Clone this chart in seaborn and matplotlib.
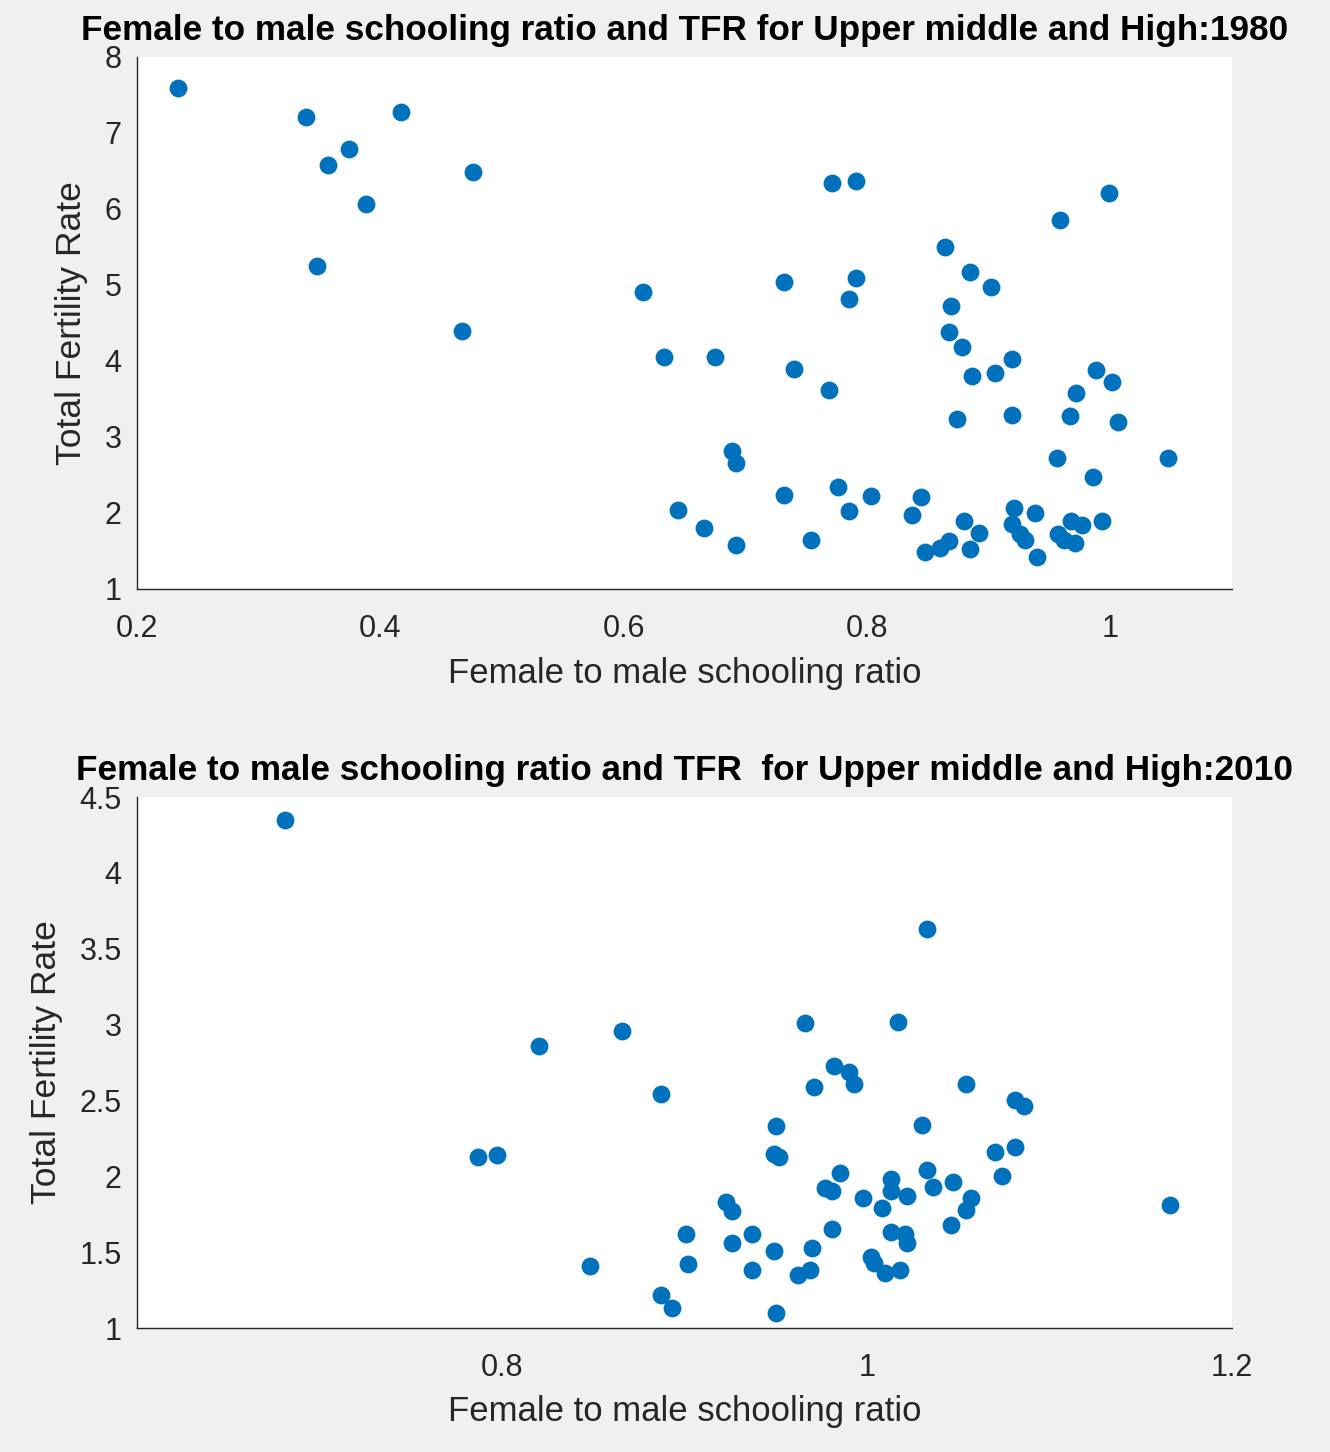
import matplotlib
matplotlib.use("Agg")
import matplotlib.pyplot as plt
import seaborn as sns
import pandas as pd

# ---- data: 1980 ----
x1980 = [0.234, 0.339, 0.417, 0.374, 0.357, 0.388, 0.476, 0.348, 0.467, 0.616,
         0.633, 0.675, 0.771, 0.791, 0.999, 0.959, 0.864, 0.732, 0.791, 0.785,
         0.885, 0.902, 0.869, 0.867, 0.878, 0.919, 0.886, 0.905, 0.988, 1.001,
         0.972, 0.740, 0.769, 0.874, 0.919, 0.967, 1.006, 0.689, 0.692, 0.956,
         1.047, 0.986, 0.732, 0.776, 0.803, 0.844, 0.645, 0.785, 0.837, 0.921,
         0.938, 0.666, 0.692, 0.754, 0.880, 0.892, 0.885, 0.867, 0.860, 0.848,
         0.919, 0.926, 0.930, 0.940, 0.993, 0.957, 0.968, 0.977, 0.971, 0.962]
y1980 = [7.59, 7.21, 7.28, 6.79, 6.58, 6.07, 6.49, 5.25, 4.40, 4.91,
         4.05, 4.05, 6.34, 6.37, 6.21, 5.85, 5.50, 5.04, 5.09, 4.82,
         5.17, 4.97, 4.72, 4.38, 4.18, 4.02, 3.80, 3.84, 3.88, 3.72,
         3.58, 3.89, 3.62, 3.24, 3.29, 3.28, 3.20, 2.81, 2.66, 2.73,
         2.72, 2.47, 2.24, 2.34, 2.23, 2.21, 2.04, 2.02, 1.98, 2.06,
         2.00, 1.80, 1.58, 1.64, 1.90, 1.74, 1.52, 1.63, 1.54, 1.49,
         1.85, 1.72, 1.64, 1.42, 1.89, 1.73, 1.89, 1.84, 1.60, 1.64]

# ---- data: 2010 ----
x2010 = [0.681, 1.033, 0.820, 0.866, 0.966, 1.017, 0.887, 0.982, 0.990, 0.993,
         0.971, 1.054, 1.081, 1.086, 0.950, 1.030, 0.787, 0.797, 0.949, 0.952,
         1.070, 1.081, 1.074, 0.985, 0.977, 0.981, 1.033, 1.036, 1.047, 1.057,
         1.054, 1.046, 0.998, 1.013, 1.013, 1.008, 1.022, 1.166, 0.923, 0.926,
         0.901, 0.902, 0.926, 0.937, 0.949, 0.937, 0.970, 0.981, 0.962, 0.969,
         0.887, 0.893, 0.950, 1.013, 1.021, 1.022, 1.002, 1.004, 1.010, 1.018,
         0.848]
y2010 = [4.35, 3.63, 2.86, 2.96, 3.01, 3.02, 2.54, 2.73, 2.69, 2.61,
         2.59, 2.61, 2.50, 2.46, 2.33, 2.34, 2.13, 2.14, 2.15, 2.13,
         2.16, 2.19, 2.00, 2.02, 1.92, 1.90, 2.04, 1.93, 1.96, 1.86,
         1.78, 1.68, 1.86, 1.98, 1.90, 1.79, 1.87, 1.81, 1.83, 1.77,
         1.62, 1.42, 1.56, 1.62, 1.51, 1.38, 1.53, 1.65, 1.35, 1.38,
         1.22, 1.13, 1.10, 1.63, 1.62, 1.56, 1.47, 1.43, 1.36, 1.38,
         1.41]

xticks_top = [0.2, 0.4, 0.6, 0.8, 1.0]
xticklabels_top = ["0.2", "0.4", "0.6", "0.8", "1"]
yticks_top = [1, 2, 3, 4, 5, 6, 7, 8]
yticklabels_top = ["1", "2", "3", "4", "5", "6", "7", "8"]
xticks_bot = [0.8, 1.0, 1.2]
xticklabels_bot = ["0.8", "1", "1.2"]
yticks_bot = [1, 1.5, 2, 2.5, 3, 3.5, 4, 4.5]
yticklabels_bot = ["1", "1.5", "2", "2.5", "3", "3.5", "4", "4.5"]

title_top = "Female to male schooling ratio and TFR for Upper middle and High:1980"
title_bot = "Female to male schooling ratio and TFR  for Upper middle and High:2010"
xlabel = "Female to male schooling ratio"
ylabel = "Total Fertility Rate"

df1 = pd.DataFrame({"x": x1980, "y": y1980})
df2 = pd.DataFrame({"x": x2010, "y": y2010})

sns.set_style("white")
plt.rcParams["font.family"] = ["Liberation Sans", "DejaVu Sans"]

W, H = 1330, 1452
fig = plt.figure(figsize=(W / 100, H / 100), dpi=100, facecolor="#f0f0f0")

def frac(l, t, r, b):
    return [l / W, 1 - b / H, (r - l) / W, (b - t) / H]

ax1 = fig.add_axes(frac(137, 57, 1232, 589))
ax2 = fig.add_axes(frac(137, 797, 1232, 1328))

blue = "#0072BD"
grey = "#262626"

for ax, df, xt, xtl, yt, ytl, xl, yl, title in [
    (ax1, df1, xticks_top, xticklabels_top, yticks_top, yticklabels_top, (0.2, 1.1), (1, 8), title_top),
    (ax2, df2, xticks_bot, xticklabels_bot, yticks_bot, yticklabels_bot, (0.6, 1.2), (1, 4.5), title_bot),
]:
    sns.scatterplot(data=df, x="x", y="y", ax=ax, color=blue, s=165, linewidth=0, alpha=1)
    ax.set_facecolor("white")
    ax.set_xlim(*xl)
    ax.set_ylim(*yl)
    ax.set_xticks(xt)
    ax.set_xticklabels(xtl)
    ax.set_yticks(yt)
    ax.set_yticklabels(ytl)
    for s in ["top", "right"]:
        ax.spines[s].set_visible(False)
    for s in ["left", "bottom"]:
        ax.spines[s].set_color(grey)
        ax.spines[s].set_linewidth(1.0)
    ax.tick_params(direction="in", length=6, width=1.0, colors=grey,
                   labelsize=22, labelcolor=grey)
    ax.tick_params(axis="x", pad=18)
    ax.tick_params(axis="y", pad=11)
    ax.set_xlabel(xlabel, fontsize=25, color=grey, labelpad=9)
    ax.set_ylabel(ylabel, fontsize=25.5, color=grey, labelpad=12)
    ax.set_title(title, fontsize=25.3, fontweight="bold", color="black", pad=12)

fig.savefig("out.png", dpi=100, facecolor=fig.get_facecolor())
